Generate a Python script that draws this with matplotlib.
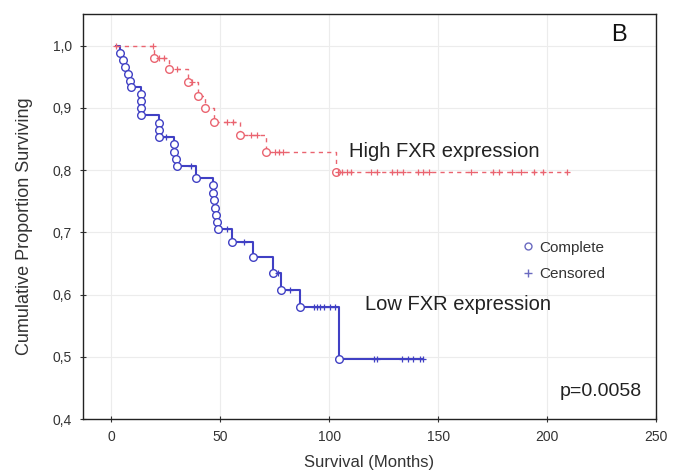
import numpy as np
import matplotlib
matplotlib.use("Agg")
import matplotlib.pyplot as plt
from matplotlib.lines import Line2D

plt.rcParams['font.family'] = ['Liberation Sans', 'DejaVu Sans']

# Low FXR expression (events: time, survival after event)
low_event_t = [4, 5.5, 6.5, 7.5, 8.5, 9, 13.5, 13.5, 13.5, 13.5, 22, 22, 22,
               29, 29, 29.5, 30, 39, 46.5, 46.5, 47, 47.5, 48, 48.5, 49,
               55.5, 65, 74, 78, 86.5, 104.5]
low_event_s = [0.988, 0.977, 0.966, 0.955, 0.944, 0.933, 0.922, 0.911, 0.900, 0.888,
               0.876, 0.865, 0.854, 0.842, 0.830, 0.818, 0.806, 0.788, 0.776, 0.764,
               0.752, 0.740, 0.728, 0.717, 0.706, 0.685, 0.660, 0.635, 0.608, 0.580,
               0.497]
low_cens_t = [25, 36.5, 53, 61, 76.5, 82, 93, 94.5, 96, 97.5, 100.5, 102.5,
              120.5, 122, 133.5, 136, 138.5, 141.5, 143]
low_end = 143

# High FXR expression
high_event_t = [19.5, 26.5, 35, 40, 43, 47, 59, 71, 103]
high_event_s = [0.981, 0.963, 0.942, 0.920, 0.900, 0.878, 0.857, 0.830, 0.797]
high_cens_t = [2, 19, 22, 24, 30, 37, 53, 56, 64, 67, 75, 77, 79,
               104, 106, 108, 110, 119, 122, 129, 131, 134, 141, 143, 146,
               165, 175, 178, 184, 188, 194, 198, 209]
high_end = 209

y_ticks = [0.4, 0.5, 0.6, 0.7, 0.8, 0.9, 1.0]
y_tick_labels = ['0,4', '0,5', '0,6', '0,7', '0,8', '0,9', '1,0']
x_ticks = [0, 50, 100, 150, 200, 250]


def surv_at(times, survs, c):
    idx = np.searchsorted(times, c, side='right') - 1
    return 1.0 if idx < 0 else survs[idx]


def draw_km(ax, ev_t, ev_s, cens_t, end, color, ls, lw):
    x = [2] + list(ev_t) + [end]
    y = [1.0] + list(ev_s) + [ev_s[-1]]
    ax.step(x, y, where='post', color=color, linestyle=ls, linewidth=lw, zorder=2)
    ax.plot(ev_t, ev_s, 'o', mfc='white', mec=color, ms=5.5, mew=1.0, zorder=3)
    cy = [surv_at(ev_t, ev_s, c) for c in cens_t]
    ax.plot(cens_t, cy, '+', color=color, ms=5, mew=0.9, zorder=3)


fig = plt.figure(figsize=(6.73, 4.76), dpi=100)
ax = fig.add_axes([0.1233, 0.1197, 0.8514, 0.8508])

draw_km(ax, low_event_t, low_event_s, low_cens_t, low_end, '#4040c4', '-', 1.5)
draw_km(ax, high_event_t, high_event_s, high_cens_t, high_end, '#ea6470', (0, (3, 3)), 1.0)

ax.set_xlim(-13, 250)
ax.set_ylim(0.4, 1.051)
ax.set_xticks(x_ticks)
ax.set_yticks(y_ticks)
ax.set_yticklabels(y_tick_labels)
ax.grid(True, color='#ececec', linewidth=0.8)
ax.set_axisbelow(True)
ax.tick_params(direction='inout', length=4, width=0.8, labelsize=10,
               colors='#333333', pad=6)
for sp in ax.spines.values():
    sp.set_color('#222222')
    sp.set_linewidth(1.0)

ax.set_xlabel('Survival (Months)', fontsize=12, color='#333333', labelpad=8)
ax.set_ylabel('Cumulative Proportion Surviving', fontsize=13, color='#333333', labelpad=10)
ax.yaxis.set_label_coords(-0.088, 0.475)

ax.text(233, 1.018, 'B', fontsize=17, ha='center', va='center', color='#111111')
ax.text(109, 0.83, 'High FXR expression', fontsize=14.5, va='center', color='#222222')
ax.text(116.5, 0.584, 'Low FXR expression', fontsize=14.5, va='center', color='#222222')
ax.text(206, 0.445, 'p=0.0058', fontsize=14, va='center', color='#222222')

handles = [Line2D([], [], marker='o', ls='none', mfc='white', mec='#6a6ac0', ms=5),
           Line2D([], [], marker='+', ls='none', color='#6a6ac0', ms=6)]
ax.legend(handles, ['Complete', 'Censored'], loc='upper left',
          bbox_to_anchor=(0.74, 0.474), frameon=False, fontsize=11,
          handletextpad=0.2, labelspacing=0.8, handlelength=1.0,
          labelcolor='#333333')

fig.savefig('out.png', dpi=100)
